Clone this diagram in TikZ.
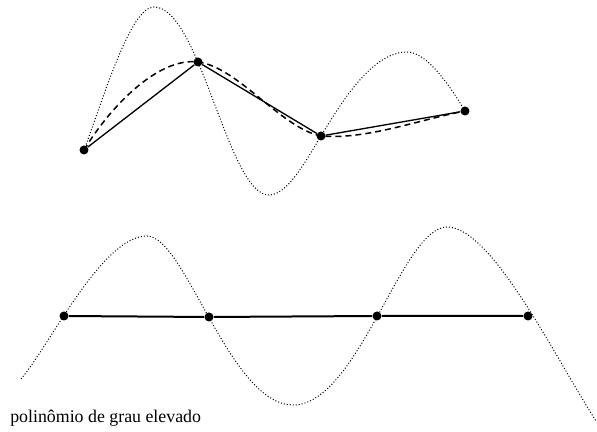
\documentclass[tikz,border=0pt]{standalone}
\usepackage{fontspec}
\setmainfont{Liberation Serif}

\begin{document}
\begin{tikzpicture}[x=0.6pt,y=-0.6pt,
  ponto/.style={circle,fill=black,inner sep=0pt,minimum size=5.4pt},
  pontilhado/.style={line width=0.6pt,dash pattern=on 0.6pt off 1.2pt},
  tracejado/.style={line width=0.9pt,dash pattern=on 3.6pt off 2.4pt}]
  \useasboundingbox (0,0) rectangle (597,432);

  % pontos de interpolação (em cima)
  \node[ponto] (p1) at (84,150) {};
  \node[ponto] (p2) at (198,62) {};
  \node[ponto] (p3) at (321,136) {};
  \node[ponto] (p4) at (465,111) {};

  % polinômio de grau elevado que passa pelos pontos
  \draw[pontilhado] (p1.center) .. controls (103,100) and (130,7) .. (154,7)
    .. controls (200,7) and (228,195) .. (269,195)
    .. controls (287,195) and (304,164) .. (p3.center)
    .. controls (341,103) and (372,52) .. (407,52)
    .. controls (427,52) and (450,86) .. (p4.center);

  % curva suave (tracejada)
  \draw[tracejado] (p1.center) .. controls (110,107) and (158,57) .. (p2.center)
    .. controls (238,67) and (281,128) .. (p3.center)
    .. controls (366,140) and (420,119.5) .. (p4.center);

  % interpolação linear
  \draw[line width=0.8pt] (p1) -- (p2) -- (p3) -- (p4);

  % pontos alinhados (embaixo)
  \node[ponto] (b1) at (64,316) {};
  \node[ponto] (b2) at (209,317) {};
  \node[ponto] (b3) at (377,316) {};
  \node[ponto] (b4) at (528,316) {};
  \coordinate (ini) at (21,379);
  \coordinate (fim) at (596,421);

  % polinômio oscilante entre os pontos
  \draw[pontilhado] (ini) .. controls (50,345) and (102,236) .. (147,236)
    .. controls (185,236) and (230,405) .. (293,405)
    .. controls (358,405) and (402,227) .. (447,227)
    .. controls (492,227) and (556,359) .. (fim);

  % reta pelos pontos
  \draw[line width=1.2pt] (b1) -- (b2) -- (b3) -- (b4);

  \node[anchor=base west,inner sep=0pt,font=\fontsize{10.7}{12}\selectfont]
    (rotulo) at (10,423) {polinômio de grau elevado};
\end{tikzpicture}
\end{document}
